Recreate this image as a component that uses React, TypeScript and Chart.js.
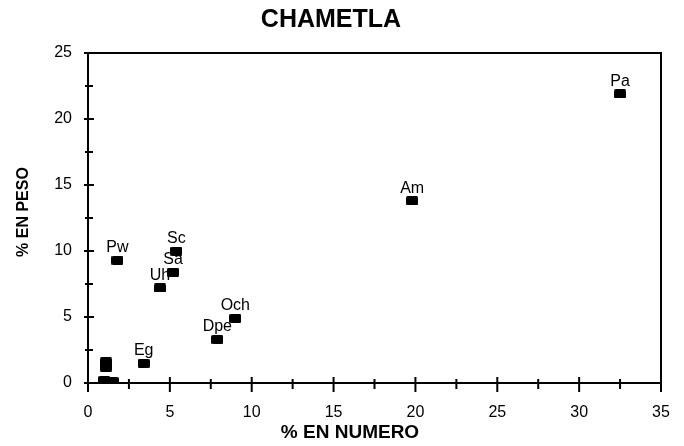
import React, { useEffect, useRef } from "react";
import { Chart, registerables } from "chart.js";
Chart.register(...registerables);

const titleText = "CHAMETLA";
const xTitle = "% EN NUMERO";
const yTitle = "% EN PESO";
const pointLabels = ["Pa", "Am", "Pw", "Sc", "Sa", "Uh", "Och", "Dpe", "Eg", "", "", "", "", ""];
const pctNumero = [32.5, 19.8, 1.8, 5.4, 5.2, 4.4, 9.0, 7.9, 3.4, 1.1, 1.1, 1.0, 1.3, 1.5];
const pctPeso = [21.9, 13.8, 9.3, 10.0, 8.4, 7.2, 4.9, 3.3, 1.5, 1.6, 1.2, 0.2, 0.1, 0.1];
const xMin = 0, xMax = 35, yMin = 0, yMax = 25;
const tickStep = 2.5;
const labelEvery = 5;

const FONT = "'Liberation Sans', Arial, Helvetica, sans-serif";

function makeMarker(): HTMLCanvasElement {
  const c = document.createElement("canvas");
  c.width = 12;
  c.height = 9;
  const g = c.getContext("2d")!;
  g.fillStyle = "#000";
  g.beginPath();
  (g as any).roundRect ? (g as any).roundRect(0, 0, 12, 9, 1.5) : g.rect(0, 0, 12, 9);
  g.fill();
  return c;
}

const decorPlugin = {
  id: "decor",
  afterDraw(chart: any) {
    const { ctx, chartArea } = chart;
    const { left, right, top, bottom } = chartArea;
    const xs = chart.scales.x;
    const ys = chart.scales.y;
    ctx.save();
    ctx.strokeStyle = "#000";
    ctx.lineWidth = 2;
    ctx.strokeRect(left, top, right - left, bottom - top);
    ctx.lineWidth = 2;
    xs.ticks.forEach((t: any) => {
      const px = xs.getPixelForValue(t.value);
      const major = Math.abs(t.value % labelEvery) < 1e-6;
      ctx.beginPath();
      ctx.moveTo(px, bottom - (major ? 6 : 4));
      ctx.lineTo(px, bottom + (major ? 9 : 6));
      ctx.stroke();
    });
    ys.ticks.forEach((t: any) => {
      const py = ys.getPixelForValue(t.value);
      const major = Math.abs(t.value % labelEvery) < 1e-6;
      ctx.beginPath();
      ctx.moveTo(left - (major ? 4 : 3), py);
      ctx.lineTo(left + (major ? 6 : 5), py);
      ctx.stroke();
    });
    ctx.fillStyle = "#000";
    ctx.textAlign = "center";
    ctx.textBaseline = "middle";
    ctx.font = `bold 25px ${FONT}`;
    ctx.fillText(titleText, 331, 20);
    ctx.font = `bold 19px ${FONT}`;
    ctx.fillText(xTitle, 350, 433);
    ctx.save();
    ctx.translate(24, 212);
    ctx.rotate(-Math.PI / 2);
    ctx.font = `bold 16px ${FONT}`;
    ctx.fillText(yTitle, 0, 0);
    ctx.restore();
    ctx.restore();
  },
  afterDatasetsDraw(chart: any) {
    const { ctx } = chart;
    const meta = chart.getDatasetMeta(0);
    ctx.save();
    ctx.fillStyle = "#000";
    ctx.font = `16px ${FONT}`;
    ctx.textAlign = "center";
    ctx.textBaseline = "alphabetic";
    meta.data.forEach((el: any, i: number) => {
      const lbl = pointLabels[i];
      if (lbl) ctx.fillText(lbl, el.x, el.y - 8);
    });
    ctx.restore();
  },
};

export default function App() {
  const ref = useRef<HTMLCanvasElement | null>(null);
  useEffect(() => {
    document.body.style.margin = "0";
    if (!ref.current) return;
    const marker = makeMarker();
    const data = pctNumero.map((x, i) => ({ x, y: pctPeso[i] }));
    const tickFont = { family: FONT, size: 16 };
    const chart = new Chart(ref.current, {
      type: "scatter",
      data: {
        datasets: [
          {
            data,
            pointStyle: marker as any,
            pointRadius: 6,
            backgroundColor: "#000",
            borderColor: "#000",
          },
        ],
      },
      options: {
        animation: false,
        responsive: true,
        maintainAspectRatio: false,
        layout: { padding: { top: 53, right: 23, left: 0, bottom: 0 } },
        plugins: { legend: { display: false }, tooltip: { enabled: false } },
        scales: {
          x: {
            type: "linear",
            min: xMin,
            max: xMax,
            grid: { display: false, drawTicks: false },
            border: { display: false },
            ticks: {
              stepSize: tickStep,
              autoSkip: false,
              maxRotation: 0,
              color: "#000",
              font: tickFont,
              padding: 20,
              callback: (v: any) => (Math.abs(Number(v) % labelEvery) < 1e-6 ? String(v) : ""),
            },
            afterFit: (s: any) => {
              s.height = 63;
              s.paddingLeft = 0;
              s.paddingRight = 0;
            },
          },
          y: {
            type: "linear",
            min: yMin,
            max: yMax,
            grid: { display: false, drawTicks: false },
            border: { display: false },
            ticks: {
              stepSize: tickStep,
              autoSkip: false,
              color: "#000",
              font: tickFont,
              padding: 16,
              callback: (v: any) => (Math.abs(Number(v) % labelEvery) < 1e-6 ? String(v) : ""),
            },
            afterFit: (s: any) => {
              s.width = 88;
              s.paddingTop = 0;
              s.paddingBottom = 0;
            },
          },
        },
      },
      plugins: [decorPlugin],
    });
    return () => chart.destroy();
  }, []);
  return (
    <div style={{ width: 684, height: 446, position: "relative", background: "#fff" }}>
      <canvas ref={ref} />
    </div>
  );
}
